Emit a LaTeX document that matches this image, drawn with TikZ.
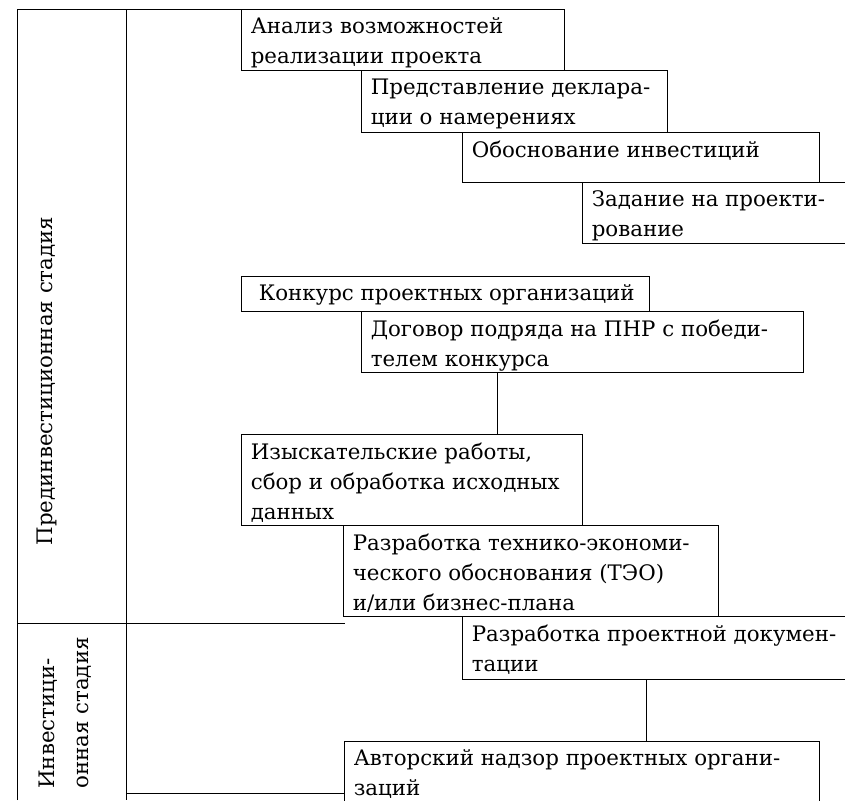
\documentclass[tikz,border=0pt]{standalone}
\usepackage{fontspec}
\setmainfont{DejaVu Serif}
\usepackage{tikz}

\begin{document}
\begin{tikzpicture}[x=0.75pt, y=-0.75pt, line width=0.7pt,
  box/.style 2 args={draw, anchor=north west, inner sep=0pt,
    minimum width=#1*0.75pt, minimum height=#2*0.75pt},
  txt/.style={anchor=north west, align=left, inner xsep=7pt, inner ysep=6pt,
    font=\fontsize{16}{22.5}\selectfont},
  stage/.style={rotate=90, align=left, font=\fontsize{16}{25.5}\selectfont}]
  \clip (0,0) rectangle (845,800);

  % stages
  \draw (17,800) -- (17,9) -- (241,9);
  \draw (126,9) -- (126,800);
  \draw (17,623) -- (345,623);
  \draw (126,793) -- (344,793);
  \node[stage] (pred) at (47,381) {Прединвестиционная стадия};
  \node[stage] (invest) at (65,713) {Инвестици-\\онная стадия};

  % steps
  \node[box={323}{61}, label={[txt]north west:{Анализ возможностей\\реализации проекта}}] (analiz) at (241,9) {};
  \node[box={306}{62}, label={[txt]north west:{Представление деклара-\\ции о намерениях}}] (deklar) at (361,70) {};
  \node[box={357}{50}, label={[txt]north west:{Обоснование инвестиций}}] (obosn) at (462,132) {};
  \node[box={300}{61}, label={[txt]north west:{Задание на проекти-\\рование}}] (zadanie) at (582,182) {};
  \node[box={408}{35}, label={[txt, xshift=6pt]north west:{Конкурс проектных организаций}}] (konkurs) at (241,276) {};
  \node[box={442}{61}, label={[txt]north west:{Договор подряда на ПНР с победи-\\телем конкурса}}] (dogovor) at (361,311) {};
  \node[box={341}{91}, label={[txt]north west:{Изыскательские работы,\\сбор и обработка исходных\\данных}}] (izysk) at (241,434) {};
  \node[box={375}{91}, label={[txt]north west:{Разработка технико-экономи-\\ческого обоснования (ТЭО)\\и/или бизнес-плана}}] (teo) at (343,525) {};
  \node[box={420}{63}, label={[txt]north west:{Разработка проектной докумен-\\тации}}] (proekt) at (462,616) {};
  \node[box={475}{90}, label={[txt]north west:{Авторский надзор проектных органи-\\заций}}] (avtor) at (344,741) {};

  \coordinate (d1) at ([xshift=102pt]dogovor.south west);
  \draw (d1) -- (d1 |- izysk.north);
  \coordinate (p1) at ([xshift=138pt]proekt.south west);
  \draw (p1) -- (p1 |- avtor.north);
\end{tikzpicture}
\end{document}
